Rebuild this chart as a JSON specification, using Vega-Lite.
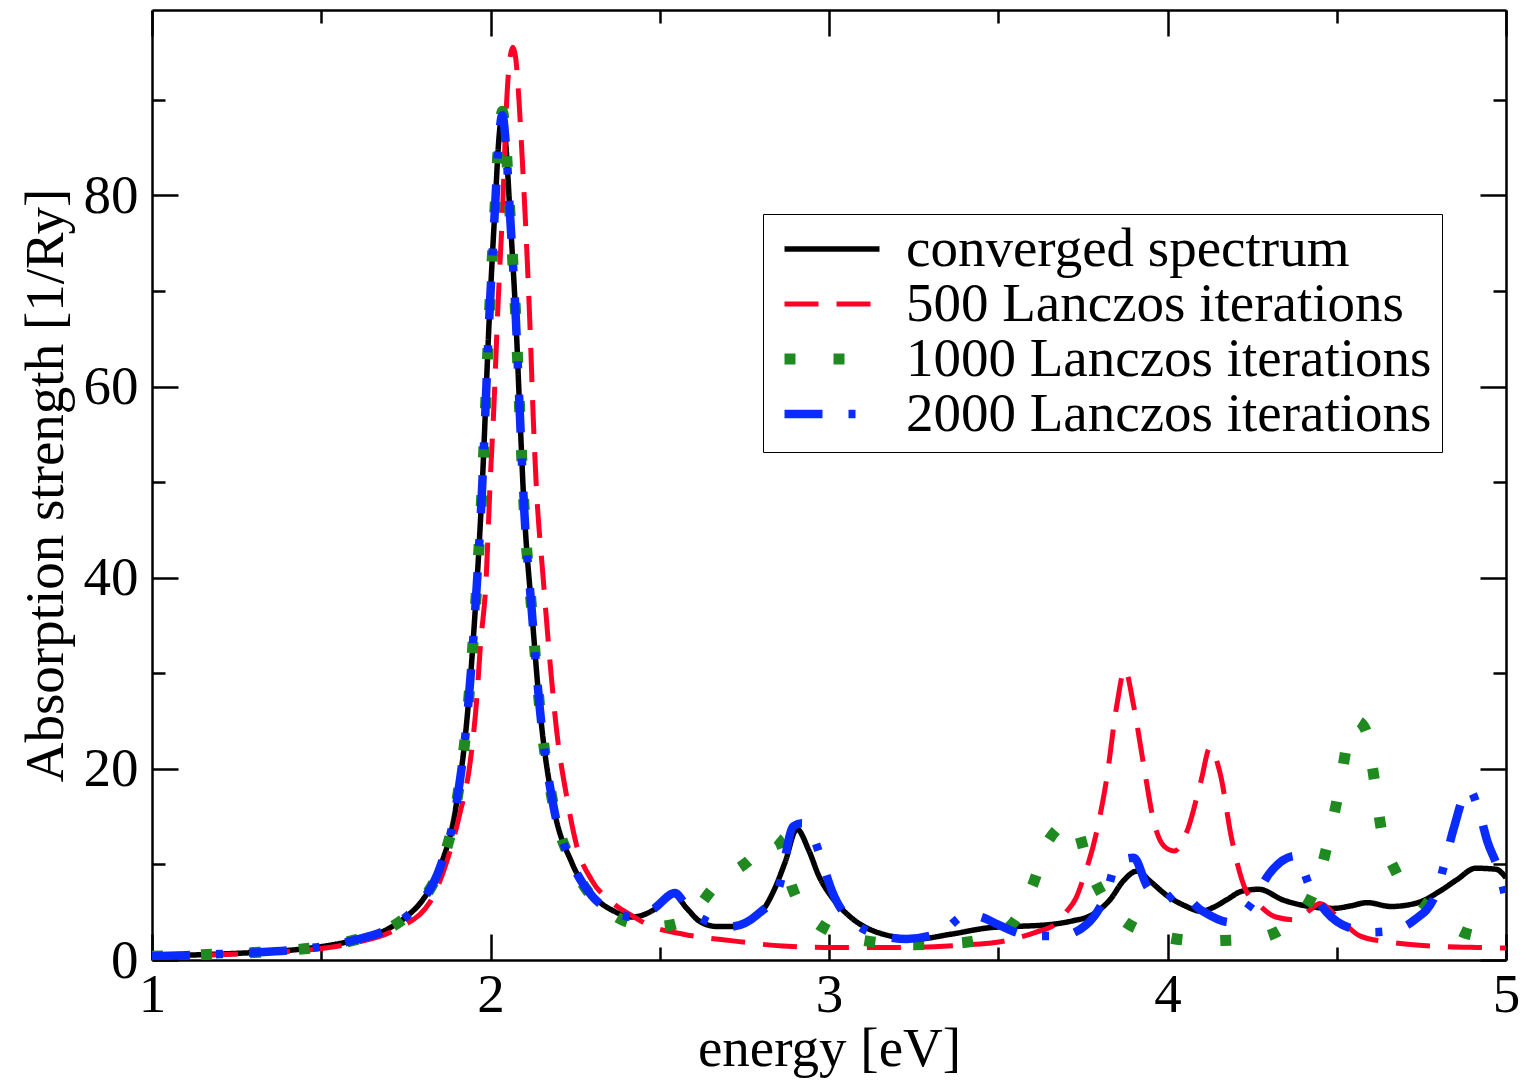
{
  "$schema": "https://vega.github.io/schema/vega-lite/v6.json",
  "autosize": {"type": "none"},
  "padding": {"left": 152, "top": 10, "right": 22, "bottom": 120},
  "width": 1354,
  "height": 950,
  "background": "white",
  "config": {"view": {"stroke": null}, "font": "Liberation Serif"},
  "data": {"values": [
    {"s":"converged spectrum","x":1.0,"y":0.4},{"s":"converged spectrum","x":1.1,"y":0.5},{"s":"converged spectrum","x":1.2,"y":0.62},{"s":"converged spectrum","x":1.3,"y":0.78},{"s":"converged spectrum","x":1.4,"y":1.0},{"s":"converged spectrum","x":1.5,"y":1.4},{"s":"converged spectrum","x":1.6,"y":2.1},{"s":"converged spectrum","x":1.7,"y":3.3},{"s":"converged spectrum","x":1.75,"y":4.5},{"s":"converged spectrum","x":1.8,"y":6.3},{"s":"converged spectrum","x":1.85,"y":9.6},{"s":"converged spectrum","x":1.9,"y":16.5},{"s":"converged spectrum","x":1.93,"y":25},{"s":"converged spectrum","x":1.95,"y":34},{"s":"converged spectrum","x":1.974,"y":48.5},{"s":"converged spectrum","x":1.998,"y":68.4},{"s":"converged spectrum","x":2.013,"y":78.5},{"s":"converged spectrum","x":2.025,"y":86},{"s":"converged spectrum","x":2.035,"y":88.6},{"s":"converged spectrum","x":2.046,"y":85},{"s":"converged spectrum","x":2.058,"y":77.8},{"s":"converged spectrum","x":2.075,"y":67},{"s":"converged spectrum","x":2.087,"y":56.9},{"s":"converged spectrum","x":2.099,"y":47.5},{"s":"converged spectrum","x":2.122,"y":36.5},{"s":"converged spectrum","x":2.146,"y":26.2},{"s":"converged spectrum","x":2.186,"y":16.1},{"s":"converged spectrum","x":2.24,"y":10.2},{"s":"converged spectrum","x":2.303,"y":6.7},{"s":"converged spectrum","x":2.36,"y":5.2},{"s":"converged spectrum","x":2.42,"y":4.5},{"s":"converged spectrum","x":2.48,"y":5.2},{"s":"converged spectrum","x":2.54,"y":6.9},{"s":"converged spectrum","x":2.58,"y":5.4},{"s":"converged spectrum","x":2.62,"y":4.0},{"s":"converged spectrum","x":2.67,"y":3.5},{"s":"converged spectrum","x":2.72,"y":3.5},{"s":"converged spectrum","x":2.77,"y":4.2},{"s":"converged spectrum","x":2.8,"y":5.0},{"s":"converged spectrum","x":2.84,"y":7.5},{"s":"converged spectrum","x":2.87,"y":10.2},{"s":"converged spectrum","x":2.905,"y":13.7},{"s":"converged spectrum","x":2.94,"y":11.5},{"s":"converged spectrum","x":2.97,"y":8.8},{"s":"converged spectrum","x":3.01,"y":6.5},{"s":"converged spectrum","x":3.06,"y":4.6},{"s":"converged spectrum","x":3.16,"y":2.7},{"s":"converged spectrum","x":3.26,"y":2.2},{"s":"converged spectrum","x":3.36,"y":2.7},{"s":"converged spectrum","x":3.48,"y":3.4},{"s":"converged spectrum","x":3.54,"y":3.5},{"s":"converged spectrum","x":3.65,"y":3.7},{"s":"converged spectrum","x":3.72,"y":4.1},{"s":"converged spectrum","x":3.77,"y":4.6},{"s":"converged spectrum","x":3.83,"y":6.3},{"s":"converged spectrum","x":3.87,"y":8.3},{"s":"converged spectrum","x":3.91,"y":9.3},{"s":"converged spectrum","x":3.95,"y":8.2},{"s":"converged spectrum","x":4.0,"y":6.7},{"s":"converged spectrum","x":4.05,"y":5.7},{"s":"converged spectrum","x":4.1,"y":5.1},{"s":"converged spectrum","x":4.135,"y":5.5},{"s":"converged spectrum","x":4.175,"y":6.3},{"s":"converged spectrum","x":4.22,"y":7.2},{"s":"converged spectrum","x":4.27,"y":7.4},{"s":"converged spectrum","x":4.34,"y":6.3},{"s":"converged spectrum","x":4.44,"y":5.5},{"s":"converged spectrum","x":4.49,"y":5.4},{"s":"converged spectrum","x":4.54,"y":5.65},{"s":"converged spectrum","x":4.59,"y":6.0},{"s":"converged spectrum","x":4.66,"y":5.6},{"s":"converged spectrum","x":4.74,"y":6.0},{"s":"converged spectrum","x":4.8,"y":7.1},{"s":"converged spectrum","x":4.855,"y":8.4},{"s":"converged spectrum","x":4.91,"y":9.6},{"s":"converged spectrum","x":4.97,"y":9.5},{"s":"converged spectrum","x":5.0,"y":8.6},

    {"s":"500 Lanczos iterations","x":1.0,"y":0.35},{"s":"500 Lanczos iterations","x":1.2,"y":0.55},{"s":"500 Lanczos iterations","x":1.4,"y":0.9},{"s":"500 Lanczos iterations","x":1.5,"y":1.2},{"s":"500 Lanczos iterations","x":1.6,"y":1.8},{"s":"500 Lanczos iterations","x":1.72,"y":3.2},{"s":"500 Lanczos iterations","x":1.82,"y":6.0},{"s":"500 Lanczos iterations","x":1.87,"y":10.2},{"s":"500 Lanczos iterations","x":1.91,"y":15.4},{"s":"500 Lanczos iterations","x":1.94,"y":20.7},{"s":"500 Lanczos iterations","x":1.96,"y":27.6},{"s":"500 Lanczos iterations","x":1.97,"y":32.8},{"s":"500 Lanczos iterations","x":1.987,"y":39.8},{"s":"500 Lanczos iterations","x":1.999,"y":50},{"s":"500 Lanczos iterations","x":2.01,"y":57.9},{"s":"500 Lanczos iterations","x":2.022,"y":68.4},{"s":"500 Lanczos iterations","x":2.036,"y":78.8},{"s":"500 Lanczos iterations","x":2.048,"y":90},{"s":"500 Lanczos iterations","x":2.058,"y":94.5},{"s":"500 Lanczos iterations","x":2.066,"y":95.5},{"s":"500 Lanczos iterations","x":2.074,"y":94.5},{"s":"500 Lanczos iterations","x":2.084,"y":90},{"s":"500 Lanczos iterations","x":2.095,"y":83},{"s":"500 Lanczos iterations","x":2.105,"y":76},{"s":"500 Lanczos iterations","x":2.117,"y":66},{"s":"500 Lanczos iterations","x":2.126,"y":57},{"s":"500 Lanczos iterations","x":2.134,"y":50.5},{"s":"500 Lanczos iterations","x":2.156,"y":39.8},{"s":"500 Lanczos iterations","x":2.176,"y":31.1},{"s":"500 Lanczos iterations","x":2.195,"y":24.1},{"s":"500 Lanczos iterations","x":2.225,"y":17.1},{"s":"500 Lanczos iterations","x":2.255,"y":11.9},{"s":"500 Lanczos iterations","x":2.3,"y":8.3},{"s":"500 Lanczos iterations","x":2.36,"y":6.0},{"s":"500 Lanczos iterations","x":2.42,"y":4.6},{"s":"500 Lanczos iterations","x":2.47,"y":3.6},{"s":"500 Lanczos iterations","x":2.57,"y":2.7},{"s":"500 Lanczos iterations","x":2.716,"y":2.0},{"s":"500 Lanczos iterations","x":2.864,"y":1.46},{"s":"500 Lanczos iterations","x":3.012,"y":1.3},{"s":"500 Lanczos iterations","x":3.21,"y":1.3},{"s":"500 Lanczos iterations","x":3.41,"y":1.6},{"s":"500 Lanczos iterations","x":3.485,"y":1.8},{"s":"500 Lanczos iterations","x":3.545,"y":2.2},{"s":"500 Lanczos iterations","x":3.61,"y":2.9},{"s":"500 Lanczos iterations","x":3.67,"y":3.8},{"s":"500 Lanczos iterations","x":3.7,"y":5.0},{"s":"500 Lanczos iterations","x":3.73,"y":6.5},{"s":"500 Lanczos iterations","x":3.75,"y":8.4},{"s":"500 Lanczos iterations","x":3.79,"y":13.3},{"s":"500 Lanczos iterations","x":3.82,"y":18.9},{"s":"500 Lanczos iterations","x":3.85,"y":26.6},{"s":"500 Lanczos iterations","x":3.874,"y":30.4},{"s":"500 Lanczos iterations","x":3.9,"y":26.6},{"s":"500 Lanczos iterations","x":3.93,"y":20.3},{"s":"500 Lanczos iterations","x":3.96,"y":14.4},{"s":"500 Lanczos iterations","x":3.99,"y":11.9},{"s":"500 Lanczos iterations","x":4.02,"y":11.4},{"s":"500 Lanczos iterations","x":4.06,"y":13.7},{"s":"500 Lanczos iterations","x":4.1,"y":18.9},{"s":"500 Lanczos iterations","x":4.125,"y":22.2},{"s":"500 Lanczos iterations","x":4.155,"y":19.6},{"s":"500 Lanczos iterations","x":4.19,"y":12.6},{"s":"500 Lanczos iterations","x":4.23,"y":7.4},{"s":"500 Lanczos iterations","x":4.264,"y":6.0},{"s":"500 Lanczos iterations","x":4.32,"y":4.5},{"s":"500 Lanczos iterations","x":4.38,"y":4.2},{"s":"500 Lanczos iterations","x":4.42,"y":5.2},{"s":"500 Lanczos iterations","x":4.45,"y":5.9},{"s":"500 Lanczos iterations","x":4.5,"y":4.6},{"s":"500 Lanczos iterations","x":4.57,"y":2.5},{"s":"500 Lanczos iterations","x":4.66,"y":1.85},{"s":"500 Lanczos iterations","x":4.78,"y":1.46},{"s":"500 Lanczos iterations","x":4.93,"y":1.3},{"s":"500 Lanczos iterations","x":5.0,"y":1.25},

    {"s":"1000 Lanczos iterations","x":1.0,"y":0.4},{"s":"1000 Lanczos iterations","x":1.1,"y":0.5},{"s":"1000 Lanczos iterations","x":1.2,"y":0.62},{"s":"1000 Lanczos iterations","x":1.3,"y":0.78},{"s":"1000 Lanczos iterations","x":1.4,"y":1.0},{"s":"1000 Lanczos iterations","x":1.5,"y":1.4},{"s":"1000 Lanczos iterations","x":1.6,"y":2.1},{"s":"1000 Lanczos iterations","x":1.7,"y":3.3},{"s":"1000 Lanczos iterations","x":1.75,"y":4.5},{"s":"1000 Lanczos iterations","x":1.8,"y":6.3},{"s":"1000 Lanczos iterations","x":1.85,"y":9.6},{"s":"1000 Lanczos iterations","x":1.9,"y":16.5},{"s":"1000 Lanczos iterations","x":1.93,"y":25},{"s":"1000 Lanczos iterations","x":1.95,"y":34},{"s":"1000 Lanczos iterations","x":1.974,"y":48.5},{"s":"1000 Lanczos iterations","x":1.998,"y":68.4},{"s":"1000 Lanczos iterations","x":2.013,"y":78.5},{"s":"1000 Lanczos iterations","x":2.025,"y":86},{"s":"1000 Lanczos iterations","x":2.035,"y":88.8},{"s":"1000 Lanczos iterations","x":2.046,"y":85},{"s":"1000 Lanczos iterations","x":2.058,"y":77.8},{"s":"1000 Lanczos iterations","x":2.075,"y":67},{"s":"1000 Lanczos iterations","x":2.087,"y":56.9},{"s":"1000 Lanczos iterations","x":2.099,"y":47.5},{"s":"1000 Lanczos iterations","x":2.122,"y":36.5},{"s":"1000 Lanczos iterations","x":2.146,"y":26.2},{"s":"1000 Lanczos iterations","x":2.186,"y":16.1},{"s":"1000 Lanczos iterations","x":2.24,"y":10.2},{"s":"1000 Lanczos iterations","x":2.3,"y":6.6},{"s":"1000 Lanczos iterations","x":2.36,"y":4.8},{"s":"1000 Lanczos iterations","x":2.41,"y":3.9},{"s":"1000 Lanczos iterations","x":2.49,"y":3.5},{"s":"1000 Lanczos iterations","x":2.56,"y":3.9},{"s":"1000 Lanczos iterations","x":2.61,"y":5.4},{"s":"1000 Lanczos iterations","x":2.66,"y":7.6},{"s":"1000 Lanczos iterations","x":2.76,"y":10.3},{"s":"1000 Lanczos iterations","x":2.84,"y":12.8},{"s":"1000 Lanczos iterations","x":2.865,"y":11.5},{"s":"1000 Lanczos iterations","x":2.89,"y":7.7},{"s":"1000 Lanczos iterations","x":2.97,"y":3.7},{"s":"1000 Lanczos iterations","x":3.11,"y":2.0},{"s":"1000 Lanczos iterations","x":3.25,"y":1.6},{"s":"1000 Lanczos iterations","x":3.39,"y":1.8},{"s":"1000 Lanczos iterations","x":3.53,"y":3.4},{"s":"1000 Lanczos iterations","x":3.6,"y":7.7},{"s":"1000 Lanczos iterations","x":3.65,"y":12.6},{"s":"1000 Lanczos iterations","x":3.72,"y":14.5},{"s":"1000 Lanczos iterations","x":3.77,"y":9.5},{"s":"1000 Lanczos iterations","x":3.84,"y":5.1},{"s":"1000 Lanczos iterations","x":3.96,"y":2.7},{"s":"1000 Lanczos iterations","x":4.1,"y":2.0},{"s":"1000 Lanczos iterations","x":4.25,"y":2.2},{"s":"1000 Lanczos iterations","x":4.37,"y":4.1},{"s":"1000 Lanczos iterations","x":4.445,"y":8.4},{"s":"1000 Lanczos iterations","x":4.48,"y":13.3},{"s":"1000 Lanczos iterations","x":4.51,"y":18.4},{"s":"1000 Lanczos iterations","x":4.535,"y":23.4},{"s":"1000 Lanczos iterations","x":4.56,"y":25},{"s":"1000 Lanczos iterations","x":4.585,"y":24.1},{"s":"1000 Lanczos iterations","x":4.61,"y":19.1},{"s":"1000 Lanczos iterations","x":4.63,"y":14},{"s":"1000 Lanczos iterations","x":4.675,"y":9.2},{"s":"1000 Lanczos iterations","x":4.77,"y":5.5},{"s":"1000 Lanczos iterations","x":4.89,"y":2.7},{"s":"1000 Lanczos iterations","x":5.0,"y":2.2},

    {"s":"2000 Lanczos iterations","x":1.0,"y":0.4},{"s":"2000 Lanczos iterations","x":1.1,"y":0.5},{"s":"2000 Lanczos iterations","x":1.2,"y":0.62},{"s":"2000 Lanczos iterations","x":1.3,"y":0.78},{"s":"2000 Lanczos iterations","x":1.4,"y":1.0},{"s":"2000 Lanczos iterations","x":1.5,"y":1.4},{"s":"2000 Lanczos iterations","x":1.6,"y":2.1},{"s":"2000 Lanczos iterations","x":1.7,"y":3.3},{"s":"2000 Lanczos iterations","x":1.75,"y":4.5},{"s":"2000 Lanczos iterations","x":1.8,"y":6.3},{"s":"2000 Lanczos iterations","x":1.85,"y":9.6},{"s":"2000 Lanczos iterations","x":1.9,"y":16.5},{"s":"2000 Lanczos iterations","x":1.93,"y":25},{"s":"2000 Lanczos iterations","x":1.95,"y":34},{"s":"2000 Lanczos iterations","x":1.974,"y":48.5},{"s":"2000 Lanczos iterations","x":1.998,"y":68.4},{"s":"2000 Lanczos iterations","x":2.013,"y":78.5},{"s":"2000 Lanczos iterations","x":2.025,"y":86},{"s":"2000 Lanczos iterations","x":2.035,"y":88.4},{"s":"2000 Lanczos iterations","x":2.046,"y":85},{"s":"2000 Lanczos iterations","x":2.058,"y":77.8},{"s":"2000 Lanczos iterations","x":2.075,"y":67},{"s":"2000 Lanczos iterations","x":2.087,"y":56.9},{"s":"2000 Lanczos iterations","x":2.099,"y":47.5},{"s":"2000 Lanczos iterations","x":2.122,"y":36.5},{"s":"2000 Lanczos iterations","x":2.146,"y":26.2},{"s":"2000 Lanczos iterations","x":2.186,"y":16.1},{"s":"2000 Lanczos iterations","x":2.24,"y":10.2},{"s":"2000 Lanczos iterations","x":2.3,"y":6.7},{"s":"2000 Lanczos iterations","x":2.36,"y":5.1},{"s":"2000 Lanczos iterations","x":2.42,"y":4.5},{"s":"2000 Lanczos iterations","x":2.48,"y":5.3},{"s":"2000 Lanczos iterations","x":2.545,"y":7.0},{"s":"2000 Lanczos iterations","x":2.58,"y":5.6},{"s":"2000 Lanczos iterations","x":2.62,"y":4.4},{"s":"2000 Lanczos iterations","x":2.71,"y":3.5},{"s":"2000 Lanczos iterations","x":2.79,"y":4.8},{"s":"2000 Lanczos iterations","x":2.85,"y":7.4},{"s":"2000 Lanczos iterations","x":2.895,"y":14.0},{"s":"2000 Lanczos iterations","x":2.92,"y":14.3},{"s":"2000 Lanczos iterations","x":2.95,"y":13.2},{"s":"2000 Lanczos iterations","x":2.98,"y":10.2},{"s":"2000 Lanczos iterations","x":3.01,"y":7.1},{"s":"2000 Lanczos iterations","x":3.09,"y":3.5},{"s":"2000 Lanczos iterations","x":3.14,"y":2.7},{"s":"2000 Lanczos iterations","x":3.23,"y":2.2},{"s":"2000 Lanczos iterations","x":3.33,"y":2.9},{"s":"2000 Lanczos iterations","x":3.41,"y":4.8},{"s":"2000 Lanczos iterations","x":3.45,"y":4.5},{"s":"2000 Lanczos iterations","x":3.5,"y":3.7},{"s":"2000 Lanczos iterations","x":3.56,"y":2.8},{"s":"2000 Lanczos iterations","x":3.62,"y":2.5},{"s":"2000 Lanczos iterations","x":3.68,"y":2.5},{"s":"2000 Lanczos iterations","x":3.76,"y":3.7},{"s":"2000 Lanczos iterations","x":3.82,"y":7.0},{"s":"2000 Lanczos iterations","x":3.85,"y":10.2},{"s":"2000 Lanczos iterations","x":3.9,"y":10.7},{"s":"2000 Lanczos iterations","x":3.94,"y":7.7},{"s":"2000 Lanczos iterations","x":3.99,"y":6.2},{"s":"2000 Lanczos iterations","x":4.03,"y":7.1},{"s":"2000 Lanczos iterations","x":4.1,"y":5.2},{"s":"2000 Lanczos iterations","x":4.185,"y":3.95},{"s":"2000 Lanczos iterations","x":4.25,"y":6.0},{"s":"2000 Lanczos iterations","x":4.3,"y":9.0},{"s":"2000 Lanczos iterations","x":4.38,"y":10.9},{"s":"2000 Lanczos iterations","x":4.42,"y":7.7},{"s":"2000 Lanczos iterations","x":4.47,"y":5.0},{"s":"2000 Lanczos iterations","x":4.55,"y":3.2},{"s":"2000 Lanczos iterations","x":4.6,"y":2.9},{"s":"2000 Lanczos iterations","x":4.65,"y":3.0},{"s":"2000 Lanczos iterations","x":4.73,"y":4.2},{"s":"2000 Lanczos iterations","x":4.79,"y":6.7},{"s":"2000 Lanczos iterations","x":4.82,"y":10.3},{"s":"2000 Lanczos iterations","x":4.845,"y":13.7},{"s":"2000 Lanczos iterations","x":4.89,"y":17.9},{"s":"2000 Lanczos iterations","x":4.92,"y":15.6},{"s":"2000 Lanczos iterations","x":4.945,"y":12.4},{"s":"2000 Lanczos iterations","x":4.98,"y":9.2},{"s":"2000 Lanczos iterations","x":5.0,"y":6.3}
  ]},
  "layer": [
    {
      "mark": {"type": "line", "interpolate": "monotone", "clip": true},
      "encoding": {
        "x": {"field": "x", "type": "quantitative",
          "scale": {"domain": [1, 5], "nice": false, "zero": false},
          "axis": {"orient": "bottom", "values": [1,1.5,2,2.5,3,3.5,4,4.5,5],
            "tickSize": {"condition": {"test": "datum.value % 1 === 0", "value": -26}, "value": -13},
            "labelExpr": "datum.value % 1 === 0 ? format(datum.value, 'd') : ''",
            "labelPadding": 34, "labelFont": "Liberation Serif", "labelFontSize": 55, "labelColor": "black",
            "labelFlush": false, "labelOverlap": false,
            "title": "energy [eV]", "titleFont": "Liberation Serif", "titleFontSize": 55, "titleFontWeight": "normal", "titleColor": "black",
            "titleBaseline": "alphabetic", "titleY": 105,
            "domainColor": "black", "domainWidth": 2.5, "tickColor": "black", "tickWidth": 2.5, "grid": false}},
        "y": {"field": "y", "type": "quantitative",
          "scale": {"domain": [0, 99.4], "nice": false, "zero": true},
          "axis": {"orient": "left", "values": [0,10,20,30,40,50,60,70,80,90],
            "tickSize": {"condition": {"test": "datum.value % 20 === 0", "value": -26}, "value": -13},
            "labelExpr": "datum.value % 20 === 0 ? format(datum.value, 'd') : ''",
            "labelPadding": 40, "labelFont": "Liberation Serif", "labelFontSize": 55, "labelColor": "black",
            "labelFlush": false, "labelOverlap": false,
            "title": "Absorption strength [1/Ry]", "titleFont": "Liberation Serif", "titleFontSize": 55, "titleFontWeight": "normal", "titleColor": "black",
            "titleBaseline": "alphabetic", "titleX": -90, "titleAngle": -90,
            "domainColor": "black", "domainWidth": 2.5, "tickColor": "black", "tickWidth": 2.5, "grid": false}},
        "color": {"field": "s", "type": "nominal",
          "scale": {"domain": ["converged spectrum", "500 Lanczos iterations", "1000 Lanczos iterations", "2000 Lanczos iterations"],
                    "range": ["#000000", "#ff0026", "#1f8a1f", "#0a2bff"]},
          "legend": {"orient": "none", "legendX": 611, "legendY": 204, "title": null,
            "symbolType": "stroke", "symbolSize": 9025, "clipHeight": 50, "rowPadding": 0,
            "labelFont": "Liberation Serif", "labelFontSize": 55, "labelColor": "black", "labelLimit": 1000, "labelOffset": 21,
            "strokeColor": "black", "padding": 10, "symbolOffset": 6}},
        "strokeDash": {"field": "s", "type": "nominal",
          "scale": {"domain": ["converged spectrum", "500 Lanczos iterations", "1000 Lanczos iterations", "2000 Lanczos iterations"],
                    "range": [[1, 0], [34, 18], [11, 38], [38, 26, 7, 26]]}},
        "strokeWidth": {"field": "s", "type": "nominal",
          "scale": {"type": "ordinal", "domain": ["converged spectrum", "500 Lanczos iterations", "1000 Lanczos iterations", "2000 Lanczos iterations"],
                    "range": [5.5, 5, 11, 8.5]}}
      }
    },
    {
      "mark": {"type": "point", "opacity": 0},
      "encoding": {
        "x": {"field": "x", "type": "quantitative",
          "axis": {"orient": "top", "values": [1,1.5,2,2.5,3,3.5,4,4.5,5],
            "tickSize": {"condition": {"test": "datum.value % 1 === 0", "value": -26}, "value": -13},
            "labels": false, "title": null,
            "domainColor": "black", "domainWidth": 2.5, "tickColor": "black", "tickWidth": 2.5, "grid": false}},
        "y": {"field": "y", "type": "quantitative",
          "axis": {"orient": "right", "values": [0,10,20,30,40,50,60,70,80,90],
            "tickSize": {"condition": {"test": "datum.value % 20 === 0", "value": -26}, "value": -13},
            "labels": false, "title": null,
            "domainColor": "black", "domainWidth": 2.5, "tickColor": "black", "tickWidth": 2.5, "grid": false}}
      }
    }
  ],
  "resolve": {"axis": {"x": "independent", "y": "independent"}}
}
